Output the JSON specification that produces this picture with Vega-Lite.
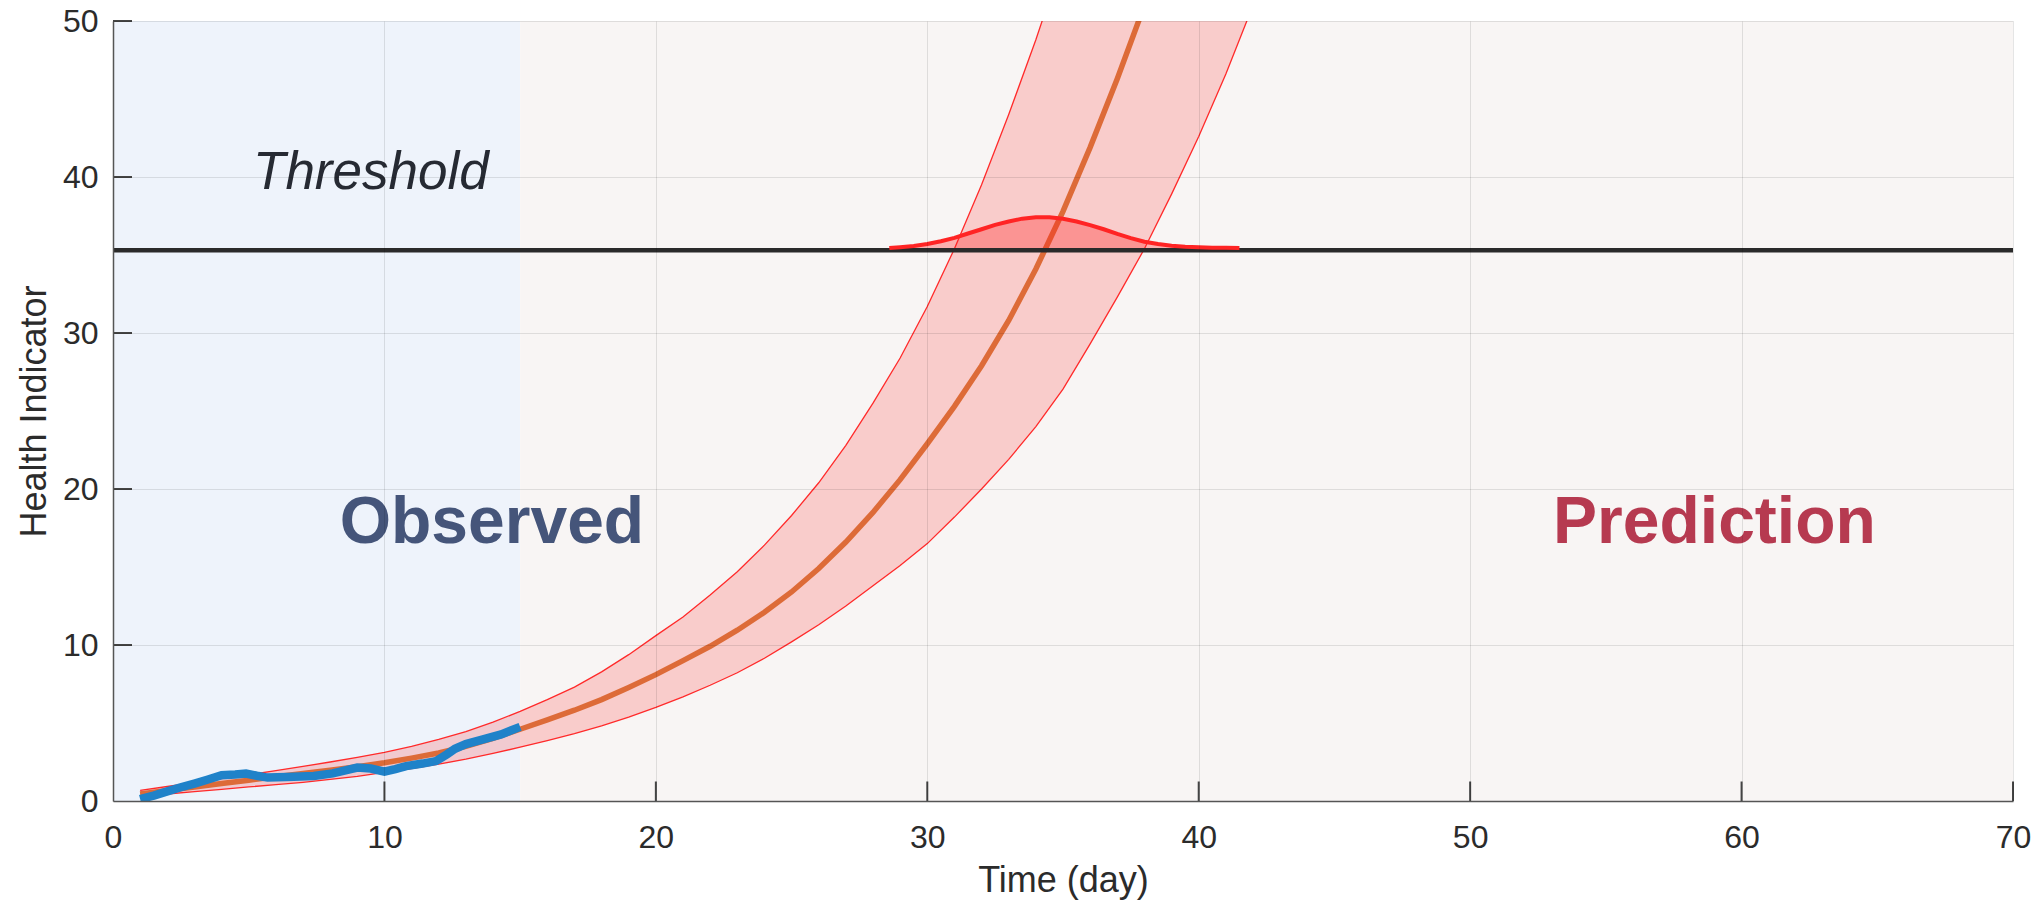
{
  "$schema": "https://vega.github.io/schema/vega-lite/v6.json",
  "width": 1900,
  "height": 780,
  "autosize": {"type": "none"},
  "padding": {"left": 113, "top": 21, "right": 31, "bottom": 100},
  "background": "#ffffff",
  "config": {
    "view": {"stroke": null},
    "axis": {
      "domainColor": "#555555",
      "domainWidth": 1.5,
      "ticks": false,
      "gridColor": "#000000",
      "gridOpacity": 0.1,
      "gridWidth": 1,
      "labelFont": "Liberation Sans",
      "labelFontSize": 32,
      "labelColor": "#2b2b2b",
      "titleFont": "Liberation Sans",
      "titleFontSize": 36,
      "titleFontWeight": "normal",
      "titleColor": "#2b2b2b",
      "labelFlush": false
    }
  },
  "datasets": {
    "regions": [
      {"x0": 0, "x1": 15, "region": "Observed"},
      {"x0": 15, "x1": 70, "region": "Prediction"}
    ],
    "xticks": [{"t": 10}, {"t": 20}, {"t": 30}, {"t": 40}, {"t": 50}, {"t": 60}, {"t": 70}],
    "yticks": [{"v": 10}, {"v": 20}, {"v": 30}, {"v": 40}, {"v": 50}],
    "pred": [
      {"t": 1, "mean": 0.45, "upper": 0.68, "lower": 0.30},
      {"t": 2, "mean": 0.68, "upper": 0.93, "lower": 0.45},
      {"t": 3, "mean": 0.90, "upper": 1.18, "lower": 0.60},
      {"t": 4, "mean": 1.12, "upper": 1.43, "lower": 0.75},
      {"t": 5, "mean": 1.33, "upper": 1.68, "lower": 0.90},
      {"t": 6, "mean": 1.55, "upper": 1.95, "lower": 1.05},
      {"t": 7, "mean": 1.76, "upper": 2.22, "lower": 1.20},
      {"t": 8, "mean": 1.98, "upper": 2.50, "lower": 1.38},
      {"t": 9, "mean": 2.20, "upper": 2.80, "lower": 1.58},
      {"t": 10, "mean": 2.45, "upper": 3.12, "lower": 1.83},
      {"t": 11, "mean": 2.75, "upper": 3.50, "lower": 2.08},
      {"t": 12, "mean": 3.08, "upper": 3.95, "lower": 2.36},
      {"t": 13, "mean": 3.50, "upper": 4.45, "lower": 2.68},
      {"t": 14, "mean": 4.02, "upper": 5.05, "lower": 3.05},
      {"t": 15, "mean": 4.60, "upper": 5.75, "lower": 3.45},
      {"t": 16, "mean": 5.20, "upper": 6.50, "lower": 3.87},
      {"t": 17, "mean": 5.82, "upper": 7.30, "lower": 4.32},
      {"t": 18, "mean": 6.50, "upper": 8.28, "lower": 4.82},
      {"t": 19, "mean": 7.28, "upper": 9.38, "lower": 5.38},
      {"t": 20, "mean": 8.10, "upper": 10.6, "lower": 6.00},
      {"t": 21, "mean": 9.00, "upper": 11.8, "lower": 6.68},
      {"t": 22, "mean": 9.92, "upper": 13.2, "lower": 7.42},
      {"t": 23, "mean": 10.95, "upper": 14.7, "lower": 8.22},
      {"t": 24, "mean": 12.10, "upper": 16.4, "lower": 9.15},
      {"t": 25, "mean": 13.40, "upper": 18.3, "lower": 10.2},
      {"t": 26, "mean": 14.90, "upper": 20.4, "lower": 11.3},
      {"t": 27, "mean": 16.60, "upper": 22.8, "lower": 12.5},
      {"t": 28, "mean": 18.50, "upper": 25.5, "lower": 13.8},
      {"t": 29, "mean": 20.60, "upper": 28.4, "lower": 15.1},
      {"t": 30, "mean": 22.90, "upper": 31.7, "lower": 16.5},
      {"t": 31, "mean": 25.30, "upper": 35.4, "lower": 18.2},
      {"t": 32, "mean": 27.90, "upper": 39.5, "lower": 20.0},
      {"t": 33, "mean": 30.80, "upper": 44.0, "lower": 21.9},
      {"t": 34, "mean": 34.10, "upper": 48.8, "lower": 24.0},
      {"t": 35, "mean": 37.80, "upper": 54.0, "lower": 26.4},
      {"t": 36, "mean": 41.90, "upper": 60.0, "lower": 29.3},
      {"t": 37, "mean": 46.30, "upper": 66.5, "lower": 32.3},
      {"t": 38, "mean": 51.00, "upper": 73.5, "lower": 35.4},
      {"t": 39, "mean": 56.20, "upper": 81.0, "lower": 38.9},
      {"t": 40, "mean": 62.00, "upper": 89.5, "lower": 42.6},
      {"t": 41, "mean": 68.50, "upper": 99.0, "lower": 46.6},
      {"t": 42, "mean": 75.50, "upper": 109.0, "lower": 51.0}
    ],
    "observed": [
      {"t": 1.0, "v": 0.12}, {"t": 1.5, "v": 0.35}, {"t": 2.0, "v": 0.62},
      {"t": 2.5, "v": 0.88}, {"t": 3.0, "v": 1.12}, {"t": 3.5, "v": 1.38},
      {"t": 4.0, "v": 1.65}, {"t": 4.5, "v": 1.70}, {"t": 4.9, "v": 1.76},
      {"t": 5.3, "v": 1.62}, {"t": 5.7, "v": 1.50}, {"t": 6.4, "v": 1.54},
      {"t": 7.4, "v": 1.60}, {"t": 8.1, "v": 1.77}, {"t": 8.6, "v": 1.98},
      {"t": 9.0, "v": 2.14}, {"t": 9.5, "v": 2.08}, {"t": 10.0, "v": 1.88},
      {"t": 10.4, "v": 2.05}, {"t": 10.8, "v": 2.24}, {"t": 11.4, "v": 2.40},
      {"t": 11.9, "v": 2.56}, {"t": 12.3, "v": 2.99}, {"t": 12.6, "v": 3.35},
      {"t": 13.0, "v": 3.65}, {"t": 13.6, "v": 3.94}, {"t": 14.3, "v": 4.27},
      {"t": 15.0, "v": 4.75}
    ],
    "pdf": [
      {"t": 28.6, "g": 35.45}, {"t": 29.0, "g": 35.50}, {"t": 29.5, "g": 35.58},
      {"t": 30.0, "g": 35.70}, {"t": 30.5, "g": 35.88}, {"t": 31.0, "g": 36.10},
      {"t": 31.5, "g": 36.38}, {"t": 32.0, "g": 36.65}, {"t": 32.5, "g": 36.93},
      {"t": 33.0, "g": 37.15}, {"t": 33.5, "g": 37.33}, {"t": 34.0, "g": 37.42},
      {"t": 34.5, "g": 37.42}, {"t": 35.0, "g": 37.32}, {"t": 35.5, "g": 37.15},
      {"t": 36.0, "g": 36.92}, {"t": 36.5, "g": 36.65}, {"t": 37.0, "g": 36.35},
      {"t": 37.5, "g": 36.08}, {"t": 38.0, "g": 35.85}, {"t": 38.5, "g": 35.70},
      {"t": 39.0, "g": 35.60}, {"t": 39.5, "g": 35.53}, {"t": 40.0, "g": 35.50},
      {"t": 40.5, "g": 35.47}, {"t": 41.0, "g": 35.46}, {"t": 41.5, "g": 35.45}
    ],
    "threshold": [{"y": 35.3}],
    "lblThreshold": [{"t": 9.5, "v": 39.2, "text": "Threshold"}],
    "lblObserved": [{"t": 13.96, "v": 16.55, "text": "Observed"}],
    "lblPrediction": [{"t": 59.0, "v": 16.55, "text": "Prediction"}]
  },
  "layer": [
    {
      "data": {"name": "regions"},
      "mark": {"type": "rect"},
      "encoding": {
        "x": {
          "field": "x0", "type": "quantitative",
          "scale": {"domain": [0, 70], "nice": false, "zero": false},
          "axis": {"title": "Time (day)", "values": [0, 10, 20, 30, 40, 50, 60, 70], "labelPadding": 21, "titlePadding": 10, "zindex": 1, "grid": true}
        },
        "x2": {"field": "x1"},
        "y": {
          "datum": 0, "type": "quantitative",
          "scale": {"domain": [0, 50], "nice": false},
          "axis": {"title": "Health Indicator", "values": [0, 10, 20, 30, 40, 50], "labelPadding": 15, "titlePadding": 9, "zindex": 1, "grid": true}
        },
        "y2": {"datum": 50},
        "color": {"field": "region", "type": "nominal", "scale": {"domain": ["Observed", "Prediction"], "range": ["#EEF3FB", "#F8F5F4"]}, "legend": null}
      }
    },
    {
      "data": {"name": "pred"},
      "mark": {"type": "area", "color": "#ff1a1a", "opacity": 0.19, "clip": true},
      "encoding": {
        "x": {"field": "t", "type": "quantitative"},
        "y": {"field": "upper", "type": "quantitative"},
        "y2": {"field": "lower"}
      }
    },
    {
      "data": {"name": "pred"},
      "mark": {"type": "line", "color": "#ff2a2a", "strokeWidth": 1.3, "clip": true},
      "encoding": {
        "x": {"field": "t", "type": "quantitative"},
        "y": {"field": "upper", "type": "quantitative"}
      }
    },
    {
      "data": {"name": "pred"},
      "mark": {"type": "line", "color": "#ff2a2a", "strokeWidth": 1.3, "clip": true},
      "encoding": {
        "x": {"field": "t", "type": "quantitative"},
        "y": {"field": "lower", "type": "quantitative"}
      }
    },
    {
      "data": {"name": "pred"},
      "mark": {"type": "line", "color": "#DD6B38", "strokeWidth": 5.5, "clip": true},
      "encoding": {
        "x": {"field": "t", "type": "quantitative"},
        "y": {"field": "mean", "type": "quantitative"}
      }
    },
    {
      "data": {"name": "observed"},
      "mark": {"type": "line", "color": "#1F82C9", "strokeWidth": 8.5, "clip": true},
      "encoding": {
        "x": {"field": "t", "type": "quantitative"},
        "y": {"field": "v", "type": "quantitative"}
      }
    },
    {
      "data": {"name": "pdf"},
      "mark": {"type": "area", "color": "#ff2020", "opacity": 0.32},
      "encoding": {
        "x": {"field": "t", "type": "quantitative"},
        "y": {"field": "g", "type": "quantitative"},
        "y2": {"datum": 35.3}
      }
    },
    {
      "data": {"name": "threshold"},
      "mark": {"type": "rule", "color": "#2a2a2a", "strokeWidth": 4.5},
      "encoding": {
        "y": {"field": "y", "type": "quantitative"}
      }
    },
    {
      "data": {"name": "pdf"},
      "mark": {"type": "line", "color": "#ff2424", "strokeWidth": 4},
      "encoding": {
        "x": {"field": "t", "type": "quantitative"},
        "y": {"field": "g", "type": "quantitative"}
      }
    },
    {
      "data": {"name": "xticks"},
      "mark": {"type": "rule", "color": "#444444", "strokeWidth": 2},
      "encoding": {
        "x": {"field": "t", "type": "quantitative"},
        "y": {"datum": 0, "type": "quantitative"},
        "y2": {"datum": 1.25}
      }
    },
    {
      "data": {"name": "yticks"},
      "mark": {"type": "rule", "color": "#444444", "strokeWidth": 2},
      "encoding": {
        "y": {"field": "v", "type": "quantitative"},
        "x": {"datum": 0, "type": "quantitative"},
        "x2": {"datum": 0.7}
      }
    },
    {
      "data": {"name": "lblThreshold"},
      "mark": {"type": "text", "align": "center", "baseline": "alphabetic", "font": "Liberation Sans", "fontSize": 53, "fontStyle": "italic", "color": "#262a33"},
      "encoding": {
        "x": {"field": "t", "type": "quantitative"},
        "y": {"field": "v", "type": "quantitative"},
        "text": {"field": "text"}
      }
    },
    {
      "data": {"name": "lblObserved"},
      "mark": {"type": "text", "align": "center", "baseline": "alphabetic", "font": "Liberation Sans", "fontSize": 66, "fontWeight": "bold", "color": "#45557A"},
      "encoding": {
        "x": {"field": "t", "type": "quantitative"},
        "y": {"field": "v", "type": "quantitative"},
        "text": {"field": "text"}
      }
    },
    {
      "data": {"name": "lblPrediction"},
      "mark": {"type": "text", "align": "center", "baseline": "alphabetic", "font": "Liberation Sans", "fontSize": 66, "fontWeight": "bold", "color": "#B63A50"},
      "encoding": {
        "x": {"field": "t", "type": "quantitative"},
        "y": {"field": "v", "type": "quantitative"},
        "text": {"field": "text"}
      }
    }
  ]
}
